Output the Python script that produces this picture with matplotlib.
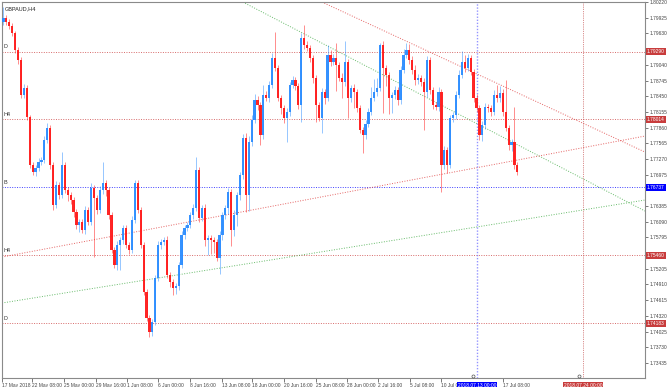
import matplotlib
matplotlib.use("Agg")
import matplotlib.pyplot as plt
import matplotlib.transforms as mtransforms
import numpy as np

# --- dados (GBPAUD H4) ---
simbolo = "GBPAUD,H4"

primeira_abertura = 1.79844
fechamentos = [
    # 17 May -> 1 Jun
    1.79920, 1.79844, 1.79769, 1.79638, 1.79318, 1.79130, 1.78472, 1.78604, 1.78058, 1.77156,
    1.77022, 1.77098, 1.77212, 1.77250, 1.77626, 1.77852, 1.77156, 1.76406, 1.76780, 1.76592,
    1.77156, 1.76686, 1.76592, 1.76498, 1.76272, 1.76028, 1.76084, 1.75934, 1.76310, 1.76084,
    1.76724, 1.76536, 1.76310, 1.76686, 1.76818, 1.76686, 1.76216, 1.75558, 1.75276, 1.75652,
    1.75746, 1.75972, 1.75652, 1.75558, 1.76122, 1.76818,
    # 1 Jun -> 18 Jun
    1.76310, 1.75652, 1.74768, 1.74274, 1.74016, 1.74204, 1.75032, 1.75652, 1.75708, 1.75746,
    1.75088, 1.74956, 1.74844, 1.74882, 1.75276, 1.75840, 1.75972, 1.76028, 1.76216, 1.76348,
    1.77062, 1.76160, 1.76348, 1.75746, 1.75784, 1.75746, 1.75708, 1.75408, 1.75840, 1.76216,
    1.76348, 1.76648, 1.75934, 1.76216, 1.76592, 1.76968, 1.77664, 1.76592, 1.77588, 1.78002,
    1.78378, 1.78284, 1.77720, 1.78472, 1.78416,
    # 18 Jun -> 5 Jul
    1.78660, 1.79168, 1.78980, 1.78416, 1.78228, 1.78042, 1.78152, 1.78660, 1.78754, 1.78641,
    1.78284, 1.79544, 1.79412, 1.79356, 1.79168, 1.78792, 1.78284, 1.78042, 1.78528, 1.78416,
    1.79224, 1.79092, 1.79168, 1.79036, 1.78792, 1.78716, 1.79092, 1.78416, 1.78604, 1.78528,
    1.78228, 1.77818, 1.77720, 1.77927, 1.78152, 1.78416, 1.78528, 1.78604, 1.79412, 1.78980,
    1.78848, 1.78416,
    # 5 Jul -> 18 Jul
    1.78472, 1.78566, 1.78378, 1.78942, 1.79224, 1.79318, 1.79130, 1.78942, 1.78754, 1.78792,
    1.78716, 1.78528, 1.79130, 1.78566, 1.78284, 1.78250, 1.78528, 1.77156, 1.77438, 1.77156,
    1.78042, 1.78096, 1.78472, 1.78848, 1.79092, 1.78980, 1.79168, 1.78904, 1.78416, 1.78228,
    1.77720, 1.77908, 1.78246, 1.78228, 1.78152, 1.78472, 1.78416, 1.78510, 1.78152, 1.77852,
    1.77532, 1.77588, 1.77156, 1.77022,
]

# pavios (em pips) acima e abaixo do corpo
pavio_sup = [
    21, 6, 5, 5, 4, 6, 5, 8, 5, 4, 6, 6, 7, 6, 8, 10, 6, 5, 8, 6,
    24, 6, 5, 6, 5, 5, 6, 5, 8, 6, 10, 6, 6, 8, 40, 6, 5, 5, 6, 8,
    6, 6, 5, 6, 8, 6,
    6, 5, 6, 5, 6, 5, 6, 8, 6, 6, 8, 6, 5, 6, 6, 8, 6, 6, 5, 8,
    25, 6, 6, 8, 6, 6, 5, 6, 8, 6, 6, 8, 6, 10, 6, 6, 8, 10, 12, 10,
    12, 8, 6, 18, 8,
    8, 10, 49, 6, 6, 6, 8, 6, 8, 6, 6, 10, 24, 8, 6, 6, 6, 6, 8, 6,
    18, 10, 8, 28, 6, 10, 40, 6, 6, 8, 6, 6, 6, 8, 8, 20, 25, 18, 4, 8,
    6, 6,
    6, 8, 6, 8, 12, 14, 12, 8, 10, 8, 6, 8, 8, 6, 6, 6, 10, 6, 8, 6,
    6, 6, 8, 10, 20, 14, 8, 6, 6, 8, 6, 8, 8, 6, 6, 10, 18, 14, 8, 60,
    6, 6, 66, 6,
]
pavio_inf = [
    6, 5, 6, 5, 6, 8, 5, 6, 5, 5, 6, 8, 6, 6, 6, 5, 8, 10, 6, 8,
    6, 6, 12, 8, 10, 8, 14, 6, 8, 6, 6, 111, 8, 6, 8, 12, 8, 6, 6, 10,
    47, 8, 6, 8, 6, 6,
    6, 6, 6, 5, 10, 8, 6, 6, 8, 6, 6, 10, 13, 12, 8, 6, 8, 6, 6, 8,
    6, 8, 6, 12, 28, 26, 20, 6, 30, 10, 8, 12, 30, 12, 20, 10, 8, 32, 30, 8,
    6, 10, 18, 8, 6,
    8, 6, 6, 6, 12, 10, 45, 8, 6, 8, 8, 32, 8, 6, 8, 10, 32, 6, 28, 12,
    6, 8, 6, 48, 6, 30, 8, 38, 8, 30, 8, 6, 34, 8, 6, 6, 6, 8, 6, 85,
    20, 30,
    28, 8, 10, 8, 6, 6, 8, 8, 10, 8, 8, 71, 10, 8, 8, 6, 8, 50, 8, 15,
    6, 8, 8, 6, 6, 8, 6, 6, 8, 8, 10, 12, 8, 8, 8, 6, 8, 8, 8, 6,
    10, 12, 8, 6,
]

# níveis horizontais (pivôs) e seus rótulos
niveis = [1.79290, 1.78014, 1.76737, 1.75460, 1.74183]
niveis_nome = ["D", "H4", "B", "H4", "D"]
niveis_azul = [False, False, True, False, False]

# linhas de tendência: (barra inicial, preço inicial, barra final, preço final)
tendencias = [
    (82.0, 1.80220, 219.7, 1.76291, "#4caf50"),
    (109.1, 1.80220, 219.7, 1.77400, "#e04848"),
    (-0.5, 1.75426, 219.7, 1.77701, "#e04848"),
    (-0.5, 1.74562, 219.7, 1.76498, "#4caf50"),
]

# linhas verticais
verticais = [162.2, 198.5]
verticais_txt = ["2018.07.13 00:00", "2018.07.24 00:00"]
verticais_cor = ["#7a7aff", "#c04040"]
verticais_box = ["#0000ff", "#c83c3c"]

# eixo do tempo
ticks_x = [-0.5, 9.8, 20.7, 31.7, 42.3, 52.9, 63.9, 74.8, 85.1, 96.1, 107.0,
           117.6, 128.3, 139.2, 149.8, 171.1]
ticks_x_txt = ["17 May 2018", "22 May 08:00", "25 May 00:00", "29 May 16:00",
               "1 Jun 08:00", "6 Jun 00:00", "8 Jun 16:00", "13 Jun 08:00",
               "18 Jun 00:00", "20 Jun 16:00", "25 Jun 08:00", "28 Jun 00:00",
               "2 Jul 16:00", "5 Jul 08:00", "10 Jul 00:00", "17 Jul 08:00"]

preco_topo = 1.80220
passo_y = 0.00295
preco_min = 1.73152
n_ticks_y = 24
x_max = 219.7

FONTE = "Liberation Sans"
TAM = 3.5

# --- montagem ---
fech = np.array(fechamentos)
aber = np.concatenate([[primeira_abertura], fech[:-1]])
topo_corpo = np.maximum(aber, fech)
base_corpo = np.minimum(aber, fech)
maximas = topo_corpo + np.array(pavio_sup) * 0.0001
minimas = base_corpo - np.array(pavio_inf) * 0.0001
idx = np.arange(len(fech))
alta = fech >= aber

cor_alta = "#2b8cff"
cor_baixa = "#ff1a1a"
cores = np.where(alta, cor_alta, cor_baixa)

plt.rcParams["font.family"] = FONTE

fig = plt.figure(figsize=(6.7, 3.87), dpi=100)
ax = fig.add_axes([2 / 670, 9 / 387, 643 / 670, 376 / 387])

# pavios e corpos
ax.vlines(idx, minimas, maximas, colors=cores, linewidth=0.7, alpha=0.5, zorder=3)
altura = np.maximum(topo_corpo - base_corpo, 0.00008)
ax.bar(idx, altura, bottom=base_corpo, width=0.75, color=cores, linewidth=0,
       alpha=0.95, zorder=4)

# níveis horizontais
trans_y = mtransforms.blended_transform_factory(ax.transAxes, ax.transData)
for nivel, nome, azul in zip(niveis, niveis_nome, niveis_azul):
    cor = "#2020ff" if azul else "#d05050"
    box = "#0000ff" if azul else "#c83c3c"
    ax.axhline(nivel, color=cor, linewidth=0.7, linestyle=(0, (1, 1.5)), alpha=0.85, zorder=2)
    ax.text(0.003, nivel + 0.0004, nome, transform=trans_y, fontsize=TAM + 0.4,
            color="#333333", va="bottom", ha="left")
    ax.text(1.003, nivel, f"{nivel:.5f}", transform=trans_y, fontsize=TAM,
            color="white", va="center", ha="left", clip_on=False, zorder=10,
            bbox=dict(boxstyle="square,pad=0.2", fc=box, ec="none"))

# linhas de tendência
for x0, y0, x1, y1, cor in tendencias:
    ax.plot([x0, x1], [y0, y1], color=cor, linewidth=0.7,
            linestyle=(0, (1, 1.6)), alpha=0.85, zorder=2)

# linhas verticais
trans_x = mtransforms.blended_transform_factory(ax.transData, ax.transAxes)
for xv, txt, cor, box in zip(verticais, verticais_txt, verticais_cor, verticais_box):
    lw = 1.0 if box == "#0000ff" else 0.6
    ax.axvline(xv, color=cor, linewidth=lw, linestyle=(0, (1, 1.2)), alpha=0.8, zorder=2)
    ax.plot([xv - 1.3], [0.006], marker="o", markersize=2.2, mfc="none",
            mec="#555555", mew=0.5, transform=trans_x, clip_on=False, zorder=6)
    ax.text(xv, -0.012, txt, transform=trans_x, fontsize=TAM, color="white",
            ha="center", va="top", clip_on=False, zorder=10,
            bbox=dict(boxstyle="square,pad=0.2", fc=box, ec="none"))

# título do símbolo
ax.text(0.004, 0.988, simbolo, transform=ax.transAxes, fontsize=TAM + 0.5,
        color="#222222", va="top", ha="left")

# eixos (rótulos cobertos pelas caixas de preço ficam de fora)
ax.set_xlim(-0.5, x_max)
ax.set_ylim(preco_min, preco_topo + 0.00001)
ticks_y = [round(preco_topo - k * passo_y, 5) for k in range(n_ticks_y)]
ticks_y = [t for t in ticks_y if min(abs(t - n) for n in niveis) > 0.0011]
ax.yaxis.tick_right()
ax.set_yticks(ticks_y)
ax.set_yticklabels([f"{t:.5f}" for t in ticks_y])
ax.set_xticks(ticks_x)
ax.set_xticklabels(ticks_x_txt, ha="left")
ax.tick_params(axis="y", labelsize=TAM, length=2, width=0.5, pad=1,
               colors="#444444")
ax.tick_params(axis="x", labelsize=TAM, length=3, width=0.5, pad=0.5,
               colors="#444444")
for sp in ax.spines.values():
    sp.set_color("#8a8a8a")
    sp.set_linewidth(0.8)

fig.savefig("out.png", dpi=100)
